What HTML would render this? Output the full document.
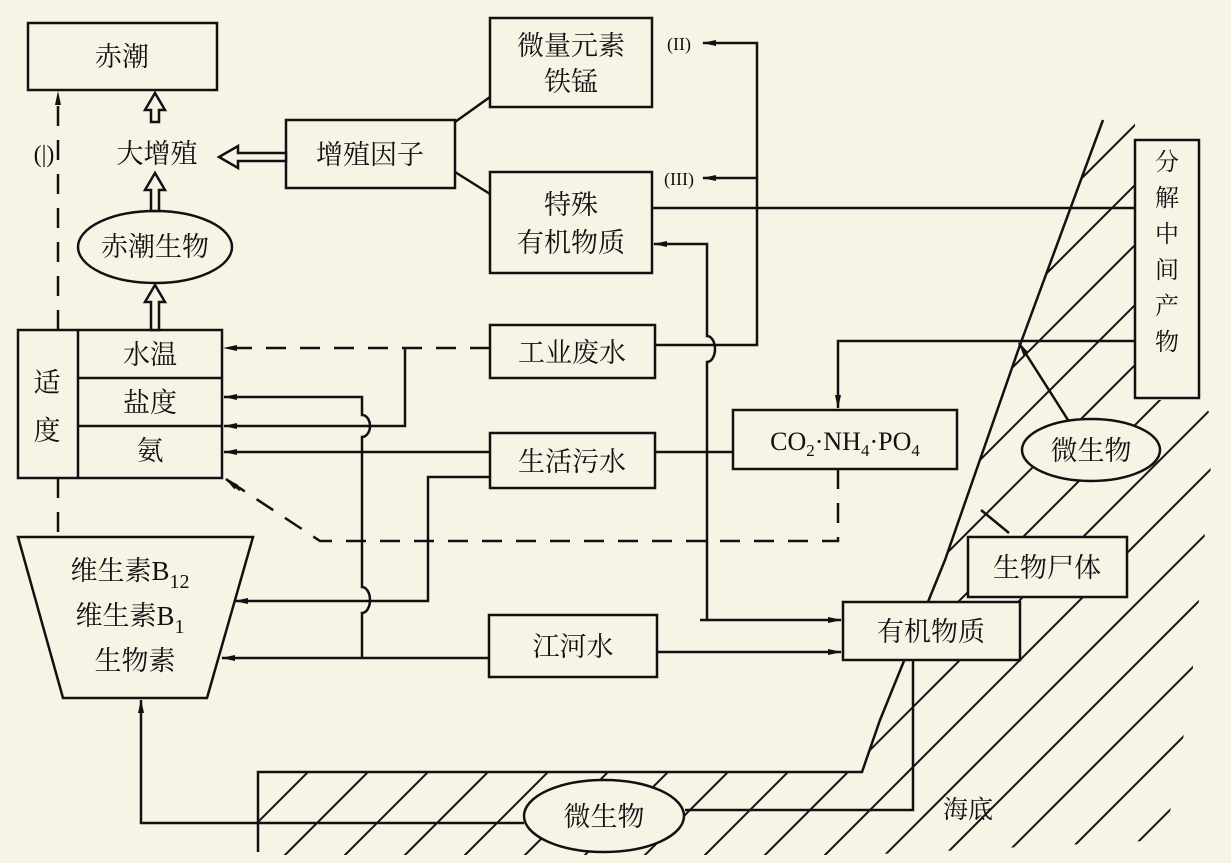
<!DOCTYPE html>
<html><head><meta charset="utf-8"><style>
html,body{margin:0;background:#f7f4e6;overflow:hidden;width:1231px;height:863px;}
svg{display:block;}
text{font-family:"Liberation Serif","Noto Serif CJK SC","Noto Sans CJK SC",serif;fill:#111;}
</style></head><body>
<svg width="1231" height="863" viewBox="0 0 1231 863" xmlns="http://www.w3.org/2000/svg">
<defs>
<marker id="a" viewBox="0 0 14 8" refX="13" refY="4" markerWidth="14" markerHeight="8" orient="auto" markerUnits="userSpaceOnUse"><path d="M0,1 L14,4 L0,7 Z" fill="#111"/></marker>
<clipPath id="hc"><polygon points="1103,120 1135,120 1135,400 1200,400 1215,420 1190,700 1165,840 860,855 258,855 258,772 862,772 880,720 945,560 1020,345"/></clipPath>
</defs>
<rect width="1231" height="863" fill="#f7f4e6"/>
<g stroke="#111" stroke-width="2.5" fill="none">
<g clip-path="url(#hc)" stroke-width="2">
<line x1="0" y1="960" x2="960" y2="0"/><line x1="0" y1="1020" x2="1020" y2="0"/><line x1="0" y1="1080" x2="1080" y2="0"/><line x1="0" y1="1140" x2="1140" y2="0"/><line x1="0" y1="1200" x2="1200" y2="0"/><line x1="0" y1="1260" x2="1260" y2="0"/><line x1="0" y1="1320" x2="1320" y2="0"/><line x1="0" y1="1380" x2="1380" y2="0"/><line x1="0" y1="1440" x2="1440" y2="0"/><line x1="0" y1="1500" x2="1500" y2="0"/><line x1="0" y1="1560" x2="1560" y2="0"/><line x1="0" y1="1620" x2="1620" y2="0"/><line x1="0" y1="1680" x2="1680" y2="0"/><line x1="0" y1="1740" x2="1740" y2="0"/><line x1="0" y1="1800" x2="1800" y2="0"/><line x1="0" y1="1860" x2="1860" y2="0"/><line x1="0" y1="1920" x2="1920" y2="0"/><line x1="0" y1="1980" x2="1980" y2="0"/><line x1="0" y1="2040" x2="2040" y2="0"/>
</g>
<path d="M1103,120 L1020,345 L945,560 L880,720 L862,772 L258,772 L258,852"/>
<rect x="28" y="23" width="189" height="67" fill="#f7f4e6"/>
<rect x="286" y="120" width="169" height="68" fill="#f7f4e6"/>
<rect x="490" y="18" width="162" height="89" fill="#f7f4e6"/>
<rect x="490" y="172" width="162" height="101" fill="#f7f4e6"/>
<rect x="490" y="325" width="165" height="53" fill="#f7f4e6"/>
<rect x="490" y="433" width="165" height="55" fill="#f7f4e6"/>
<rect x="489" y="615" width="168" height="62" fill="#f7f4e6"/>
<rect x="18" y="330" width="204" height="148" fill="#f7f4e6"/>
<line x1="78" y1="330" x2="78" y2="478"/><line x1="78" y1="378" x2="222" y2="378"/><line x1="78" y1="426" x2="222" y2="426"/>
<polygon points="18,537 253,537 207,698 63,698" fill="#f7f4e6"/>
<rect x="733" y="410" width="224" height="59" fill="#f7f4e6"/>
<rect x="1135" y="140" width="64" height="258" fill="#f7f4e6"/>
<rect x="968" y="537" width="159" height="60" fill="#f7f4e6"/>
<rect x="843" y="602" width="177" height="58" fill="#f7f4e6"/>
<ellipse cx="155" cy="247" rx="77" ry="36" fill="#f7f4e6"/>
<ellipse cx="1091" cy="450" rx="69" ry="31" fill="#f7f4e6"/>
<ellipse cx="604" cy="816" rx="80" ry="36" fill="#f7f4e6"/>
<line x1="455" y1="122" x2="490" y2="97"/><line x1="455" y1="172" x2="490" y2="194"/>
<path d="M655,345 L757,345 L757,43 L703,43" marker-end="url(#a)"/>
<path d="M757,178 L703,178" marker-end="url(#a)"/>
<line x1="652" y1="208" x2="1135" y2="208"/>
<path d="M700,620 L707,620 L707,362 A8,13 0 0 0 707,336 L707,244 L654,244" marker-end="url(#a)"/>
<path d="M707,620 L841,620" marker-end="url(#a)"/>
<path d="M657,652 L841,652" marker-end="url(#a)"/>
<path d="M490,348 L224,348" stroke-dasharray="20,14" marker-end="url(#a)"/>
<path d="M405,348 L405,426 L224,426" marker-end="url(#a)"/>
<path d="M362,657 L362,613 A8,13 0 0 0 362,587 L362,437 A8,11 0 0 0 362,415 L362,397 L224,397" marker-end="url(#a)"/>
<path d="M490,452 L224,452" marker-end="url(#a)"/>
<line x1="655" y1="452" x2="733" y2="452"/>
<path d="M490,477 L428,477 L428,601 L235,601" marker-end="url(#a)"/>
<path d="M489,658 L222,658" marker-end="url(#a)"/>
<path d="M838,469 L838,541 L320,541 L226,479" stroke-dasharray="20,14"/>
<path d="M240,490 L226,479" marker-end="url(#a)"/>
<path d="M1135,341 L838,341 L838,408" marker-end="url(#a)"/>
<path d="M1068,420 L1019,343" marker-end="url(#a)"/>
<line x1="981" y1="510" x2="1009" y2="533"/>
<path d="M913,660 L913,810 L685,810"/>
<path d="M524,823 L141,823 L141,700" marker-end="url(#a)"/>
<path d="M58,330 L58,92" stroke-dasharray="20,14" marker-end="url(#a)"/>
<line x1="58" y1="478" x2="58" y2="537" stroke-dasharray="20,14"/>
<path d="M151,122 L151,110 L145,110 L155,93 L165,110 L159,110 L159,122 Z" fill="#f7f4e6"/>
<path d="M151,211 L151,190 L145,190 L155,173 L165,190 L159,190 L159,211 Z" fill="#f7f4e6"/>
<path d="M151,330 L151,302 L145,302 L155,285 L165,302 L159,302 L159,330 Z" fill="#f7f4e6"/>
<path d="M286,153 L238,153 L238,146 L219,157 L238,168 L238,161 L286,161 Z" fill="#f7f4e6"/>
</g>
<g font-size="27" text-anchor="middle">
<text x="122" y="66">赤潮</text>
<text x="157" y="163">大增殖</text>
<text x="44" y="162" font-size="24">(|)</text>
<text x="155" y="256">赤潮生物</text>
<text x="370" y="164">增殖因子</text>
<text x="571" y="55">微量元素</text>
<text x="571" y="91">铁锰</text>
<text x="679" y="50" font-size="18">(II)</text>
<text x="679" y="185" font-size="18">(III)</text>
<text x="571" y="214">特殊</text>
<text x="571" y="252">有机物质</text>
<text x="572" y="362">工业废水</text>
<text x="572" y="471">生活污水</text>
<text x="573" y="656">江河水</text>
<text x="150" y="364">水温</text>
<text x="150" y="412">盐度</text>
<text x="150" y="460">氨</text>
<text x="47" y="392">适</text>
<text x="47" y="440">度</text>
<text x="130" y="580">维生素B<tspan font-size="20" dy="8">12</tspan></text>
<text x="130" y="625">维生素B<tspan font-size="20" dy="8">1</tspan></text>
<text x="135" y="670">生物素</text>
<text x="845" y="450" font-size="26">CO<tspan font-size="17" dy="6">2</tspan><tspan dy="-6">·NH</tspan><tspan font-size="17" dy="6">4</tspan><tspan dy="-6">·PO</tspan><tspan font-size="17" dy="6">4</tspan></text>
<text x="1091" y="460">微生物</text>
<text x="604" y="826">微生物</text>
<text x="1047" y="577">生物尸体</text>
<text x="931" y="641">有机物质</text>
<text x="968" y="818" font-size="25">海底</text>
<g font-size="24"><text x="1167" y="170">分</text><text x="1167" y="206">解</text><text x="1167" y="242">中</text><text x="1167" y="278">间</text><text x="1167" y="314">产</text><text x="1167" y="350">物</text></g>
</g>
</svg>
</body></html>
